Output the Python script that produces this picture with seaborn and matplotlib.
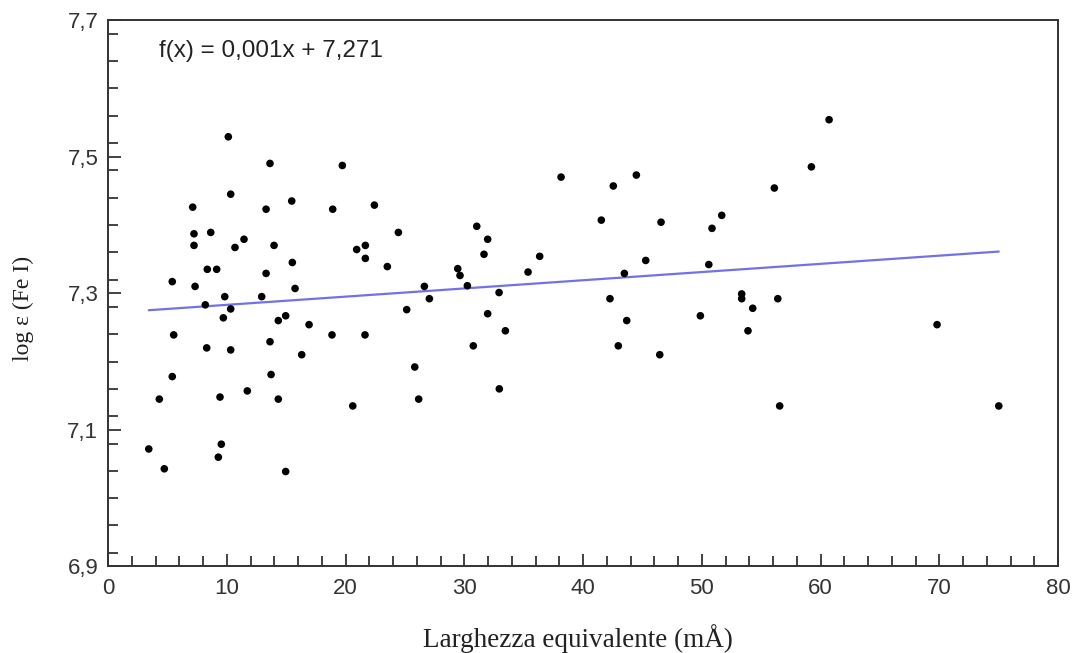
import matplotlib

matplotlib.use("Agg")
import matplotlib.pyplot as plt
import numpy as np
import pandas as pd
import seaborn as sns
from matplotlib.ticker import MultipleLocator

# equivalent width (mA)
EQ_WIDTH = [
    10.13, 13.64, 19.73, 10.33, 7.13, 13.31, 15.47, 18.92, 7.24, 8.65,
    7.24, 10.69, 11.45, 13.98, 20.94, 8.36, 9.15, 13.31, 15.52, 5.41,
    7.33, 9.83, 12.94, 15.75, 8.19, 10.33, 9.71, 14.34, 14.96, 16.93,
    5.53, 18.86, 8.31, 10.33, 13.64, 16.31, 5.41, 13.73, 4.32, 9.43,
    11.73, 14.34, 20.61, 3.43, 9.54, 9.29, 4.74, 14.96,
    38.15, 22.43, 24.45, 31.05, 31.97, 31.66, 36.35, 21.67, 21.67, 23.52,
    35.37, 29.45, 29.64, 26.64, 27.06, 30.26, 32.93, 25.15, 31.97, 21.64,
    33.46, 30.76, 25.83, 32.95, 26.16,
    42.55, 44.49, 60.72, 59.23, 56.11, 41.54, 46.57, 51.68, 50.86, 45.28,
    50.59, 43.48, 42.27, 43.68, 49.88, 53.36, 53.36, 54.29, 56.40, 53.89,
    42.97, 46.46, 69.81, 56.56, 75.01,
]

# log epsilon (Fe I) abundance for each line
LOG_EPS = [
    7.529, 7.490, 7.487, 7.445, 7.426, 7.423, 7.435, 7.423, 7.387, 7.389,
    7.370, 7.367, 7.379, 7.370, 7.364, 7.335, 7.335, 7.329, 7.345, 7.317,
    7.310, 7.295, 7.295, 7.307, 7.283, 7.277, 7.264, 7.260, 7.267, 7.254,
    7.239, 7.239, 7.220, 7.217, 7.229, 7.210, 7.178, 7.181, 7.145, 7.148,
    7.157, 7.145, 7.135, 7.072, 7.079, 7.060, 7.043, 7.039,
    7.470, 7.429, 7.389, 7.398, 7.379, 7.357, 7.354, 7.370, 7.351, 7.339,
    7.331, 7.336, 7.326, 7.310, 7.292, 7.311, 7.301, 7.276, 7.270, 7.239,
    7.245, 7.223, 7.192, 7.160, 7.145,
    7.457, 7.473, 7.554, 7.485, 7.454, 7.407, 7.404, 7.414, 7.395, 7.348,
    7.342, 7.329, 7.292, 7.260, 7.267, 7.299, 7.292, 7.278, 7.292, 7.245,
    7.223, 7.210, 7.254, 7.135, 7.135,
]

# linear trend drawn in the reference
SLOPE = 0.0012
INTERCEPT = 7.271
FIT_LABEL = "f(x) = 0,001x + 7,271"

X_TICKS = [0, 10, 20, 30, 40, 50, 60, 70, 80]
Y_TICKS = [6.9, 7.1, 7.3, 7.5, 7.7]
Y_TICK_LABELS = ["6,9", "7,1", "7,3", "7,5", "7,7"]


def main() -> None:
    sns.set_theme(style="white")
    plt.rcParams["font.family"] = ["Liberation Sans", "DejaVu Sans"]

    df = pd.DataFrame({"w": EQ_WIDTH, "log_eps": LOG_EPS})
    x_fit = np.array([df["w"].min(), df["w"].max()])
    fit_df = pd.DataFrame({"w": x_fit, "log_eps": INTERCEPT + SLOPE * x_fit})

    fig = plt.figure(figsize=(10.77, 6.53), dpi=100)
    ax = fig.add_axes([0.1003, 0.1325, 0.8821, 0.8369])

    sns.scatterplot(data=df, x="w", y="log_eps", color="black", s=30, edgecolor="none", ax=ax, zorder=3)
    sns.lineplot(data=fit_df, x="w", y="log_eps", color="#7272e6", lw=1.6, ax=ax, zorder=2)

    ax.set_xlim(0, 80)
    ax.set_ylim(6.9, 7.7)
    ax.set_xticks(X_TICKS)
    ax.xaxis.set_minor_locator(MultipleLocator(2))
    ax.set_yticks(Y_TICKS)
    ax.set_yticklabels(Y_TICK_LABELS)
    ax.yaxis.set_minor_locator(MultipleLocator(0.04))
    ax.tick_params(which="both", direction="in", bottom=True, left=True, top=False, right=False,
                   colors="#222222", labelcolor="#333333", labelsize=16, width=1.2)
    ax.tick_params(which="major", length=9)
    ax.tick_params(which="minor", length=7)
    ax.tick_params(axis="x", which="major", pad=8)
    ax.tick_params(axis="y", which="major", pad=7)

    for spine in ax.spines.values():
        spine.set_color("#333333")
        spine.set_linewidth(1.4)

    ax.set_xlabel("Larghezza equivalente (mÅ)", family=["Liberation Serif", "DejaVu Serif"],
                  fontsize=19.5, color="#222222")
    ax.xaxis.set_label_coords(0.495, -0.105)
    ax.set_ylabel("log ε (Fe I)", family=["Liberation Serif", "DejaVu Serif"],
                  fontsize=17, color="#222222")
    ax.yaxis.set_label_coords(-0.078, 0.473)

    ax.text(4.3, 7.655, FIT_LABEL, fontsize=17.5, color="#222222", va="center", ha="left")

    fig.savefig("out.png", dpi=100)
    plt.close(fig)


if __name__ == "__main__":
    main()
